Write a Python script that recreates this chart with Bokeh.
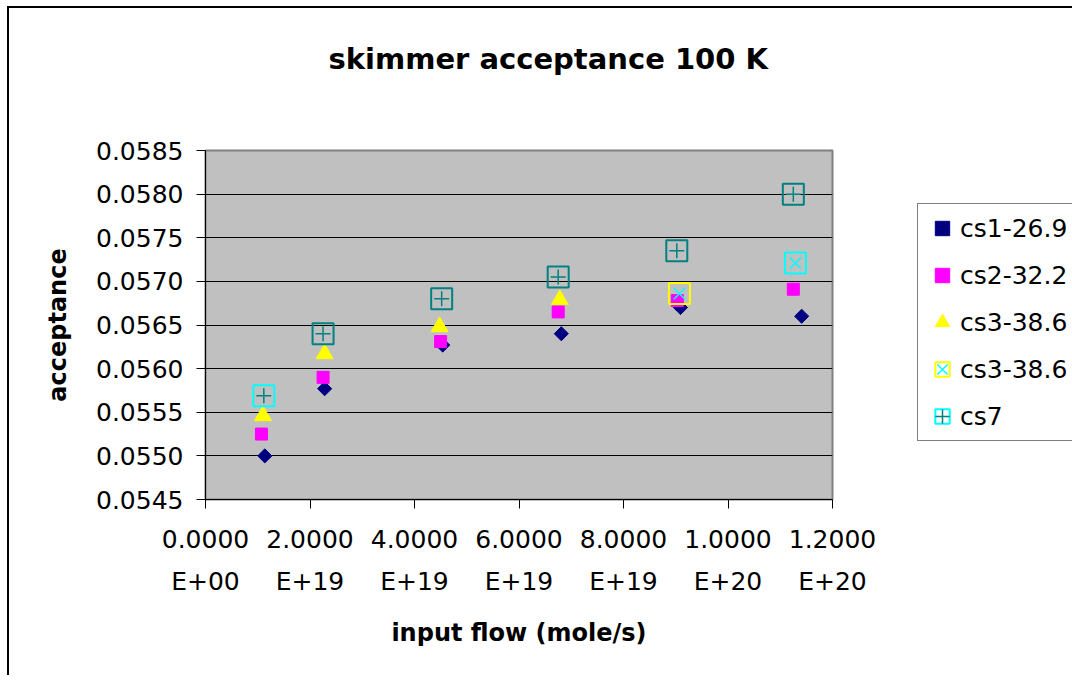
import math
from bokeh.plotting import figure
from bokeh.models import Legend, LegendItem, FixedTicker, NumeralTickFormatter, Title
from bokeh.embed import file_html
from bokeh.resources import INLINE

# ---- data ----
cs1_x = [1.135e19, 2.28e19, 4.54e19, 6.81e19, 9.09e19, 1.141e20]
cs1_y = [0.05500, 0.05577, 0.05627, 0.05640, 0.05670, 0.05660]
cs2_x = [1.07e19, 2.25e19, 4.50e19, 6.75e19, 9.03e19, 1.125e20]
cs2_y = [0.05525, 0.05590, 0.05631, 0.05665, 0.05678, 0.05691]
cs3_x = [1.10e19, 2.28e19, 4.48e19, 6.78e19]
cs3_y = [0.05546, 0.05617, 0.05648, 0.05679]
cs3b_x = [9.07e19, 1.129e20]
cs3b_y = [0.05686, 0.05721]
cs7_x = [1.116e19, 2.25e19, 4.52e19, 6.75e19, 9.02e19, 1.125e20]
cs7_y = [0.05569, 0.05640, 0.05680, 0.05705, 0.05735, 0.05800]

series_names = ["cs1-26.9", "cs2-32.2", "cs3-38.6", "cs3-38.6", "cs7"]

x_ticks = [0.0, 2e19, 4e19, 6e19, 8e19, 1e20, 1.2e20]
x_tick_labels = ["0.0000\nE+00", "2.0000\nE+19", "4.0000\nE+19", "6.0000\nE+19",
                 "8.0000\nE+19", "1.0000\nE+20", "1.2000\nE+20"]
y_ticks = [0.0545, 0.0550, 0.0555, 0.0560, 0.0565, 0.0570, 0.0575, 0.0580, 0.0585]
chart_title = "skimmer acceptance 100 K"

# ---- styles ----
FONT = "DejaVu Sans"
cs3b_box_colors = ["#FFFF00", "#00FFFF"]
cs7_box_colors = ["#00FFFF", "#008080", "#008080", "#008080", "#008080", "#008080"]

# outer chart border drawn as CSS on the figure element (left/top edges visible)
OFF_X, OFF_Y = 9, 8

p = figure(width=1072 - OFF_X, height=683 - OFF_Y, output_backend="svg",
           toolbar_location=None, title_location=None,
           x_range=(0, 1.2e20), y_range=(0.0545, 0.0585),
           frame_width=627, frame_height=349,
           min_border_left=205 - OFF_X, min_border_right=240,
           min_border_top=150 - OFF_Y, min_border_bottom=184 - OFF_Y)
p.styles = {"margin-left": "7px", "margin-top": "6px",
            "border-left": "2px solid black", "border-top": "2px solid black"}
p.background_fill_color = "#C0C0C0"
p.border_fill_color = "white"
p.outline_line_color = "#808080"
p.outline_line_width = 2

# spacer between frame and title, then the title itself (farther from the frame)
spacer = Title(text=" ", text_font=FONT, text_font_size="10px", standoff=32)
p.add_layout(spacer, "above")
title = Title(text=chart_title, text_font=FONT, text_font_size="29px",
              text_font_style="bold", text_color="black",
              align="left", offset=123, standoff=60)
p.add_layout(title, "above")

# axes
p.xaxis.ticker = FixedTicker(ticks=x_ticks)
p.xaxis.major_label_overrides = {t: l for t, l in zip(x_ticks, x_tick_labels)}
p.yaxis.ticker = FixedTicker(ticks=y_ticks)
p.yaxis.formatter = NumeralTickFormatter(format="0.0000")
for ax in (p.xaxis, p.yaxis):
    ax.axis_line_color = "black"
    ax.axis_line_width = 1
    ax.major_tick_line_color = "black"
    ax.major_tick_out = 9
    ax.major_tick_in = 0
    ax.minor_tick_line_color = None
    ax.major_label_text_font = FONT
    ax.major_label_text_font_size = "25px"
    ax.major_label_text_color = "black"
    ax.axis_label_text_font = FONT
    ax.axis_label_text_font_size = "24px"
    ax.axis_label_text_font_style = "bold"
    ax.axis_label_text_color = "black"
p.xaxis.major_label_text_line_height = 1.45
p.xaxis.major_label_standoff = 16
p.yaxis.major_label_standoff = 13
p.xaxis.axis_label = "input flow (mole/s)"
p.yaxis.axis_label = "acceptance"
p.xaxis.axis_label_standoff = 20
p.yaxis.axis_label_standoff = 21

p.xgrid.grid_line_color = None
p.ygrid.grid_line_color = "black"
p.ygrid.grid_line_width = 1

# series
r1 = p.scatter(cs1_x, cs1_y, marker="square", angle=math.pi / 4, size=10,
               fill_color="#000080", line_color="#000080")
r2 = p.scatter(cs2_x, cs2_y, marker="square", size=12,
               fill_color="#FF00FF", line_color="#FF00FF")
r3 = p.scatter(cs3_x, cs3_y, marker="triangle", size=17,
               fill_color="#FFFF00", line_color="#FFFF00")
r4a = p.scatter(cs3b_x, cs3b_y, marker="square", size=21, fill_color=None,
                line_color=cs3b_box_colors, line_width=2)
r4b = p.scatter(cs3b_x, cs3b_y, marker="x", size=16, line_color="#00FFFF", line_width=1.5)
r5a = p.scatter(cs7_x, cs7_y, marker="square", size=21, fill_color=None,
                line_color=cs7_box_colors, line_width=2)
r5b = p.scatter(cs7_x, cs7_y, marker="cross", size=15, line_color="#008080", line_width=1.5)

legend = Legend(items=[
    LegendItem(label=series_names[0], renderers=[r1]),
    LegendItem(label=series_names[1], renderers=[r2]),
    LegendItem(label=series_names[2], renderers=[r3]),
    LegendItem(label=series_names[3], renderers=[r4a, r4b]),
    LegendItem(label=series_names[4], renderers=[r5a, r5b]),
], location=(85, 58))
legend.label_text_font = FONT
legend.label_text_font_size = "25px"
legend.label_text_color = "black"
legend.glyph_width = 36
legend.glyph_height = 36
legend.label_standoff = 0
legend.padding = 6
legend.spacing = 11
legend.margin = 0
legend.border_line_color = "black"
legend.border_line_width = 1.5
legend.background_fill_color = "white"
legend.background_fill_alpha = 1
p.add_layout(legend, "right")

open("out.html", "w").write(file_html(p, INLINE))
